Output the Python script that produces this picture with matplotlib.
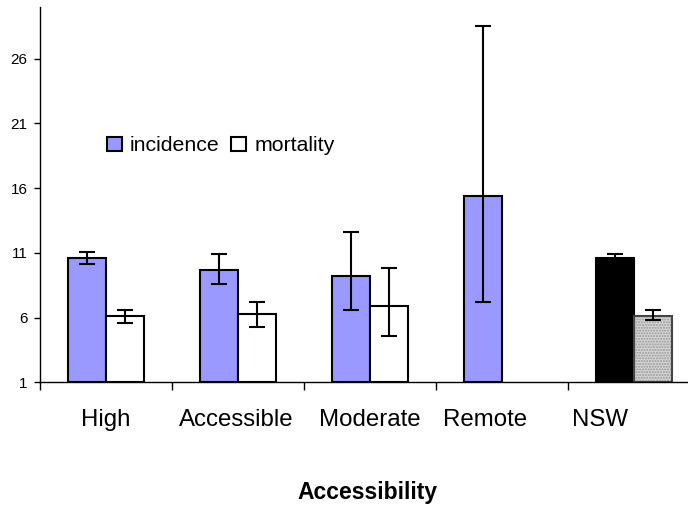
import numpy as np
import matplotlib
matplotlib.use('Agg')
import matplotlib.pyplot as plt
from matplotlib.patches import Patch

plt.rcParams['font.family'] = ['Liberation Sans', 'DejaVu Sans']

# data
categories = ['High', 'Accessible', 'Moderate', 'Remote', 'NSW']
incidence = [10.58, 9.66, 9.19, 15.37, 10.63]
inc_low = [10.12, 8.57, 6.56, 7.18, 10.32]
inc_high = [11.05, 10.91, 12.59, 28.53, 10.94]
mortality = [6.10, 6.26, 6.87, np.nan, 6.12]
mort_low = [5.60, 5.30, 4.55, np.nan, 5.79]
mort_high = [6.59, 7.20, 9.81, np.nan, 6.59]
yticks = [1, 6, 11, 16, 21, 26]

W, H = 688, 508
fig = plt.figure(figsize=(W / 100, H / 100), dpi=100)
# axis runs a bit past the right edge of the picture, like the original
ax = fig.add_axes([40 / W, (H - 382.3) / H, 660 / W, 375.3 / H])

x = np.arange(len(categories))
w = 0.29
inc = np.array(incidence)
mort = np.array(mortality)
inc_err = [inc - np.array(inc_low), np.array(inc_high) - inc]
mort_err = [mort - np.array(mort_low), np.array(mort_high) - mort]

# regions: blue/white, NSW black/grey pattern
reg = x < 4
ax.bar(x[reg] - w / 2, inc[reg] - 1, w, bottom=1, color='#9999ff',
       edgecolor='black', linewidth=1.5, zorder=2)
ax.bar(x[reg] + w / 2, mort[reg] - 1, w, bottom=1, color='white',
       edgecolor='black', linewidth=1.5, zorder=2)
nsw = x == 4
ax.bar(x[nsw] - w / 2, inc[nsw] - 1, w, bottom=1, color='black',
       edgecolor='black', linewidth=1.5, zorder=2)
ax.bar(x[nsw] + w / 2, mort[nsw] - 1, w, bottom=1, color='#d4d4d4',
       edgecolor='#9a9a9a', hatch='......', linewidth=0, zorder=2)
ax.bar(x[nsw] + w / 2, mort[nsw] - 1, w, bottom=1, fill=False,
       edgecolor='#444444', linewidth=1.5, zorder=2)

ax.errorbar(x - w / 2, inc, yerr=inc_err, fmt='none', ecolor='black',
            elinewidth=1.5, capsize=6, capthick=1.5, zorder=3)
ax.errorbar(x + w / 2, mort, yerr=mort_err, fmt='none', ecolor='black',
            elinewidth=1.5, capsize=6, capthick=1.5, zorder=3)

ax.set_xlim(-0.5, 4.5)
ax.set_ylim(1, 30)
ax.set_yticks(yticks)
ax.tick_params(axis='y', direction='out', length=4, width=1, pad=5,
               labelsize=11)

# tick marks sit on the category boundaries, labels placed separately
ax.set_xticks(np.arange(len(categories)) - 0.5)
ax.set_xticklabels([])
ax.tick_params(axis='x', which='major', direction='out', length=6, width=1)
label_pos = [-0.005, 0.985, 2.0, 2.87, 3.74]
ax.set_xticks(label_pos, minor=True)
ax.set_xticklabels(categories, minor=True, fontsize=17.3)
ax.tick_params(axis='x', which='minor', length=0, pad=19)

for s in ['top', 'right']:
    ax.spines[s].set_visible(False)
for s in ['left', 'bottom']:
    ax.spines[s].set_linewidth(1)

fig.text(367 / W, 1 - 493 / H, 'Accessibility', ha='center', va='center',
         fontsize=16.5, fontweight='bold')

handles = [Patch(facecolor='#9999ff', edgecolor='black', linewidth=1.5),
           Patch(facecolor='white', edgecolor='black', linewidth=1.5)]
fig.legend(handles, ['incidence', 'mortality'], loc='center left',
           bbox_to_anchor=(107 / W, 1 - 146 / H), ncol=2, frameon=False,
           fontsize=15.3, handlelength=0.7, handleheight=0.7,
           handletextpad=0.38, columnspacing=0.55, borderpad=0,
           borderaxespad=0)

fig.savefig('out.png', dpi=100)
